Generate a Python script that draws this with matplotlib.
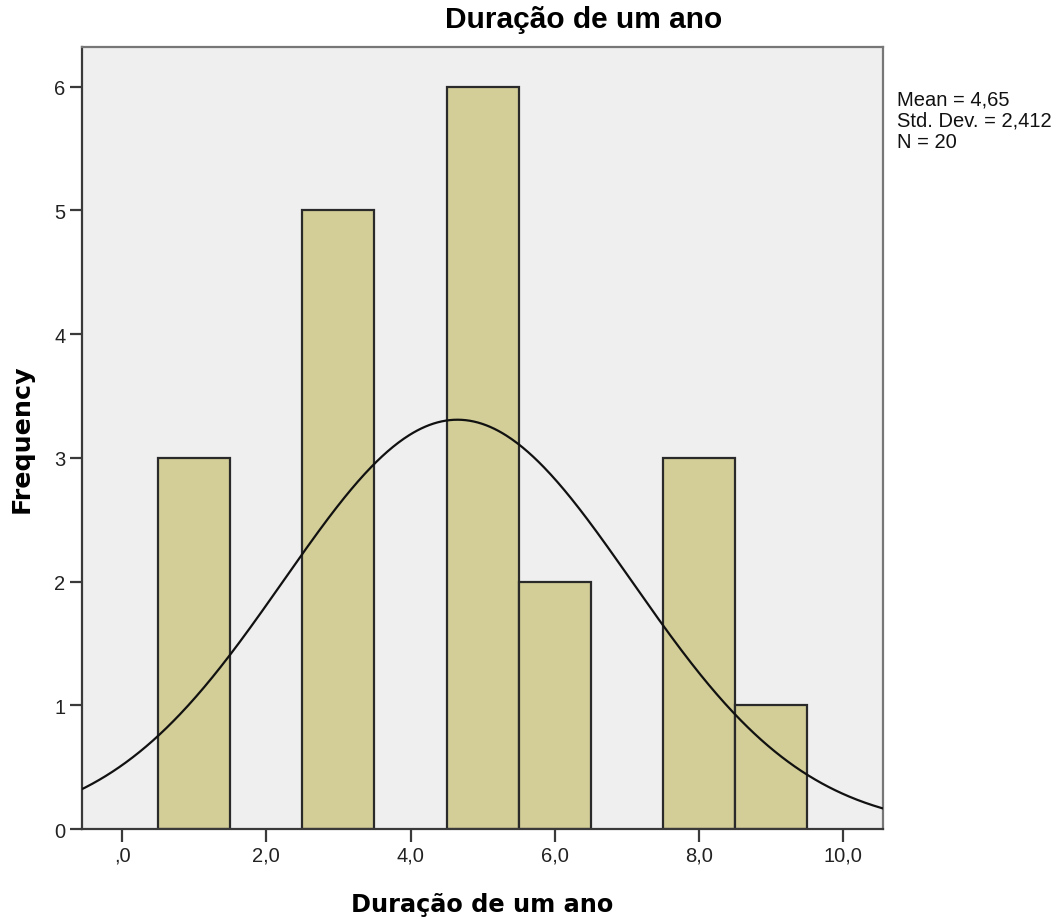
import numpy as np
import matplotlib
matplotlib.use("Agg")
import matplotlib.pyplot as plt

# Histogram of "Duração de um ano" (bin width 1)
bin_centers = [1.0, 3.0, 5.0, 6.0, 8.0, 9.0]
counts = [3, 5, 6, 2, 3, 1]
mean = 4.65
std_dev = 2.412
n_total = 20
bin_width = 1.0

x_ticks = [0, 2, 4, 6, 8, 10]
x_tick_labels = [",0", "2,0", "4,0", "6,0", "8,0", "10,0"]
y_ticks = [0, 1, 2, 3, 4, 5, 6]

title = "Duração de um ano"
x_label = "Duração de um ano"
y_label = "Frequency"

fig = plt.figure(figsize=(10.62, 9.2), dpi=100)
ax = fig.add_axes([0.0772, 0.0978, 0.7543, 0.85])
ax.set_facecolor("#efefef")

ax.bar(bin_centers, counts, width=bin_width, color="#d3ce97",
       edgecolor="#2a2a2a", linewidth=1.6, zorder=2)

# Normal curve scaled to the histogram counts
xs = np.linspace(-0.6, 10.6, 600)
pdf = np.exp(-0.5 * ((xs - mean) / std_dev) ** 2) / (std_dev * np.sqrt(2 * np.pi))
ax.plot(xs, n_total * bin_width * pdf, color="#111111", linewidth=1.6, zorder=3)

ax.set_xlim(-0.555, 10.55)
ax.set_ylim(0, 6.32)

ax.set_xticks(x_ticks)
ax.set_xticklabels(x_tick_labels)
ax.set_yticks(y_ticks)

for side in ["left", "bottom", "top", "right"]:
    ax.spines[side].set_color("#3a3a3a")
    ax.spines[side].set_linewidth(1.6)
ax.spines["top"].set_color("#777777")
ax.spines["right"].set_color("#777777")

ax.tick_params(axis="both", direction="out", length=9, width=1.6,
               color="#3a3a3a", labelsize=14.5, labelcolor="#222222", pad=3)
for lab in ax.get_xticklabels() + ax.get_yticklabels():
    lab.set_family("Liberation Sans")

ax.set_xlabel(x_label, family="DejaVu Sans", fontweight="bold",
              fontsize=17.3, labelpad=20, color="#000000")
ax.set_ylabel(y_label, family="DejaVu Sans", fontweight="bold",
              fontsize=18.3, labelpad=15, color="#000000")

fig.text(584 / 1062, 1 - 20 / 920, title, family="Liberation Sans",
         fontweight="bold", fontsize=21.5, ha="center", va="center")

stats = f"Mean = {mean:.2f}\nStd. Dev. = {std_dev:.3f}\nN = {n_total}".replace(".", ",")
stats = stats.replace("Std, Dev,", "Std. Dev.")
fig.text(897 / 1062, 1 - 91 / 920, stats, family="Liberation Sans",
         fontsize=14.5, ha="left", va="top", linespacing=1.12, color="#111111")

fig.savefig("out.png", dpi=100)
